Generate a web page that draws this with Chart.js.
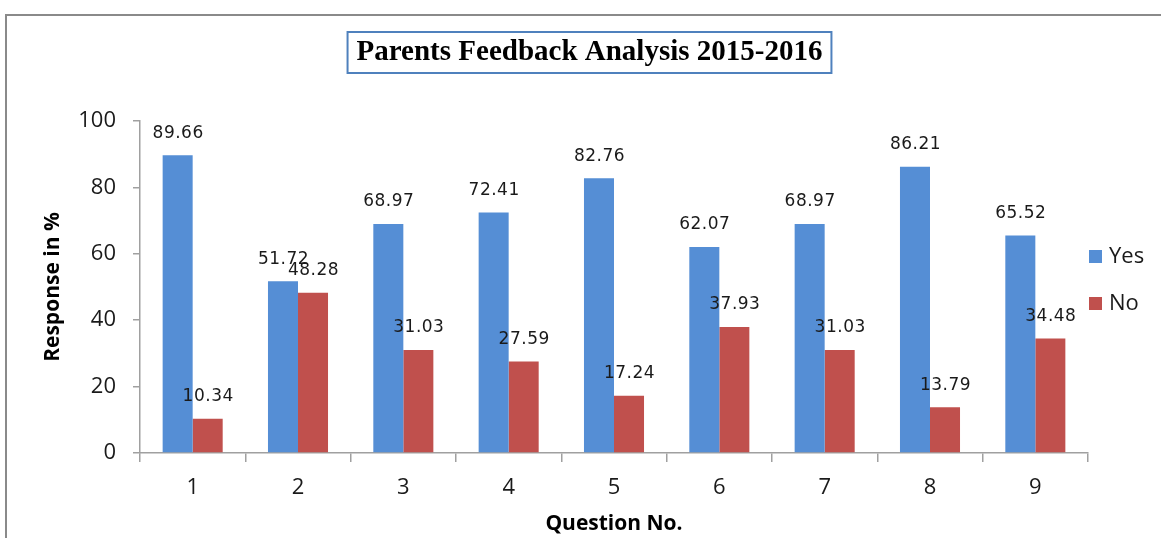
<!DOCTYPE html>
<html lang="en">
<head>
    <meta charset="UTF-8">
    <meta name="viewport" content="width=device-width, initial-scale=1.0">
    <title>Parents Feedback Analysis 2015-2016</title>
    <script src="https://cdn.jsdelivr.net/npm/chart.js"></script>
    <style>
        html, body {
            margin: 0;
            padding: 0;
            background: #fff;
            overflow: hidden;
        }

        /* grey frame of the original chart object (top and left edges visible) */
        .frame {
            position: absolute;
            left: 5px;
            top: 14px;
            width: 1200px;
            height: 600px;
            border-top: 2px solid #8a8a8a;
            border-left: 2px solid #8a8a8a;
        }

        .chart-container {
            position: absolute;
            left: 0;
            top: 0;
            width: 1161px;
            height: 538px;
        }
    </style>
</head>
<body>
    <div class="frame"></div>
    <div class="chart-container">
        <canvas id="feedbackChart"></canvas>
    </div>

    <script>
        // Data
        const chartTitle = 'Parents Feedback Analysis 2015-2016';
        const questions = ['1', '2', '3', '4', '5', '6', '7', '8', '9'];
        const yesValues = [89.66, 51.72, 68.97, 72.41, 82.76, 62.07, 68.97, 86.21, 65.52];
        const noValues = [10.34, 48.28, 31.03, 27.59, 17.24, 37.93, 31.03, 13.79, 34.48];
        const seriesNames = ['Yes', 'No'];

        const axisColor = '#a0a0a0';
        const textColor = '#1a1a1a';

        // Title with a blue box around it
        const titleBox = {
            id: 'titleBox',
            afterDraw(chart) {
                const ctx = chart.ctx;
                ctx.save();
                ctx.font = 'bold 29px "Liberation Serif", "Times New Roman", serif';
                ctx.fillStyle = '#000';
                ctx.textAlign = 'center';
                ctx.textBaseline = 'middle';
                const cx = 589.5, cy = 53;
                ctx.fillText(chartTitle, cx, cy);
                const w = ctx.measureText(chartTitle).width;
                ctx.strokeStyle = '#4f81bd';
                ctx.lineWidth = 2;
                ctx.strokeRect(cx - w / 2 - 9, 32, w + 18, 41);
                ctx.restore();
            }
        };

        // Value labels above every bar
        const barValues = {
            id: 'barValues',
            afterDatasetsDraw(chart) {
                const ctx = chart.ctx;
                ctx.save();
                ctx.font = '17px "DejaVu Sans", Tahoma, sans-serif';
                ctx.letterSpacing = '0.5px';
                ctx.fillStyle = '#1a1a1a';
                ctx.textAlign = 'center';
                ctx.textBaseline = 'middle';
                chart.data.datasets.forEach((ds, i) => {
                    chart.getDatasetMeta(i).data.forEach((bar, j) => {
                        ctx.fillText(ds.data[j].toFixed(2), bar.x + 0.5, bar.y - 22);
                    });
                });
                ctx.restore();
            }
        };

        // Legend on the right, next to the plot area
        const sideLegend = {
            id: 'sideLegend',
            afterDraw(chart) {
                const ctx = chart.ctx;
                const area = chart.chartArea;
                const mid = (area.top + area.bottom) / 2;
                ctx.save();
                ctx.font = '22px "Open Sans", sans-serif';
                ctx.textAlign = 'left';
                ctx.textBaseline = 'middle';
                chart.data.datasets.forEach((ds, i) => {
                    const y = mid - 30 + i * 47;
                    ctx.fillStyle = ds.backgroundColor;
                    ctx.fillRect(area.right + 1, y - 7, 13, 13);
                    ctx.fillStyle = textColor;
                    ctx.fillText(ds.label, area.right + 21, y);
                });
                ctx.restore();
            }
        };

        const ctx = document.getElementById('feedbackChart').getContext('2d');
        const feedbackChart = new Chart(ctx, {
            type: 'bar',
            data: {
                labels: questions,
                datasets: [{
                    label: seriesNames[0],
                    data: yesValues,
                    backgroundColor: '#558ed5',
                    barPercentage: 1.0,
                    categoryPercentage: 0.57
                }, {
                    label: seriesNames[1],
                    data: noValues,
                    backgroundColor: '#c0504d',
                    barPercentage: 1.0,
                    categoryPercentage: 0.57
                }]
            },
            options: {
                responsive: true,
                maintainAspectRatio: false,
                animation: false,
                layout: {
                    padding: { top: 121, right: 73, bottom: 0, left: 0 }
                },
                plugins: {
                    legend: { display: false },
                    title: { display: false },
                    tooltip: { enabled: false }
                },
                scales: {
                    x: {
                        grid: {
                            offset: true,
                            drawOnChartArea: false,
                            drawTicks: true,
                            tickLength: 9,
                            color: axisColor,
                            lineWidth: 1.5
                        },
                        border: { color: axisColor, width: 1.5 },
                        ticks: {
                            color: textColor,
                            padding: 13,
                            font: { family: 'Open Sans', size: 22 }
                        },
                        title: {
                            display: true,
                            text: 'Question No.',
                            color: '#000',
                            padding: { top: 0, bottom: 1 },
                            font: { family: 'Open Sans', size: 21, weight: 'bold' }
                        },
                        afterFit: scale => { scale.height = 85; }
                    },
                    y: {
                        min: 0,
                        max: 100,
                        grid: {
                            drawOnChartArea: false,
                            drawTicks: true,
                            tickLength: 7,
                            color: axisColor,
                            lineWidth: 1.5
                        },
                        border: { color: axisColor, width: 1.5 },
                        ticks: {
                            stepSize: 20,
                            color: textColor,
                            padding: 17,
                            font: { family: 'Open Sans', size: 22 }
                        },
                        title: {
                            display: true,
                            text: 'Response in %',
                            color: '#000',
                            padding: { top: 40, bottom: 0 },
                            font: { family: 'Open Sans', size: 21, weight: 'bold' }
                        },
                        afterFit: scale => { scale.width = 140; }
                    }
                }
            },
            plugins: [titleBox, barValues, sideLegend]
        });
    </script>
</body>
</html>
